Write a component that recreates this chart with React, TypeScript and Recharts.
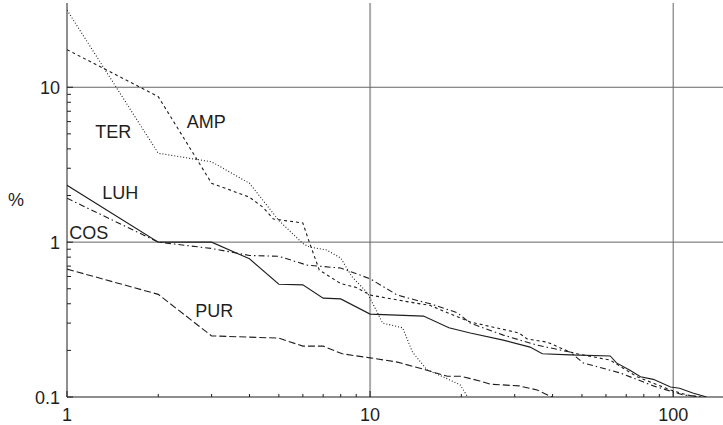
import { LineChart, Line, XAxis, YAxis, ReferenceLine, ReferenceDot } from 'recharts';

const FONT = '"Liberation Sans", Arial, Helvetica, sans-serif';
const INK = '#1e1e1e';

// rank (x) vs share in % (y)
const TER: [number, number][] = [
  [1, 31.5], [2, 3.75], [3, 3.3], [4, 2.4], [5, 1.38], [6, 0.98], [6.3, 0.93], [7.2, 0.89],
  [8, 0.79], [8.7, 0.6], [9.8, 0.47], [11, 0.3], [12.8, 0.28], [13.8, 0.195], [15.4, 0.15],
  [17.4, 0.135], [19.8, 0.12], [21, 0.1],
];
const AMP: [number, number][] = [
  [1, 17.5], [2, 8.7], [3, 2.4], [4, 1.95], [4.43, 1.68], [4.8, 1.41], [6, 1.33], [6.3, 1.0],
  [6.8, 0.66], [8, 0.54], [9, 0.51], [10, 0.455], [11.4, 0.435], [13.5, 0.41], [15.8, 0.39],
  [18, 0.35], [21.4, 0.305], [31, 0.259], [33, 0.237], [38.4, 0.226], [45.7, 0.195], [48.3, 0.19],
  [62, 0.173], [76, 0.135], [98, 0.111], [111, 0.103], [123, 0.1],
];
const LUH: [number, number][] = [
  [1, 2.33], [2, 1.0], [3, 1.0], [4, 0.78], [5, 0.535], [6, 0.53], [7, 0.435], [8, 0.43],
  [10, 0.343], [15, 0.333], [18.2, 0.28], [21.4, 0.259], [27.5, 0.233], [33.7, 0.21], [37, 0.19],
  [45.7, 0.187], [62, 0.184], [65, 0.166], [72, 0.149], [78, 0.135], [86, 0.13], [98, 0.116],
  [105, 0.114], [116, 0.106], [129, 0.1],
];
const COS: [number, number][] = [
  [1, 1.92], [2, 1.0], [3, 0.91], [4, 0.82], [5, 0.81], [6.2, 0.71], [8, 0.68], [10, 0.58],
  [12.3, 0.455], [14.3, 0.42], [15.8, 0.4], [19.4, 0.35], [21.4, 0.3], [27.5, 0.251],
  [35.6, 0.216], [45.7, 0.195], [50.5, 0.166], [66.8, 0.143], [86, 0.118], [108, 0.103], [126, 0.1],
];
const PUR: [number, number][] = [
  [1, 0.67], [2, 0.46], [3, 0.248], [5, 0.24], [6, 0.213], [7, 0.213], [8.1, 0.19], [10, 0.179],
  [12.3, 0.168], [15.4, 0.149], [18, 0.136], [20, 0.136], [23, 0.127], [24.9, 0.121], [31, 0.118],
  [35.6, 0.111], [39.8, 0.1],
];

const X_TICKS = [1, 2, 3, 4, 5, 6, 7, 8, 9, 10, 20, 30, 40, 50, 60, 70, 80, 90, 100];
const Y_TICKS = [0.1, 0.2, 0.3, 0.4, 0.5, 0.6, 0.7, 0.8, 0.9, 1, 2, 3, 4, 5, 6, 7, 8, 9, 10];
const X_DOMAIN = [1, 146];
const Y_DOMAIN = [0.1, 35];

const SERIES = [
  { name: 'TER', data: TER, dash: '1 2' },
  { name: 'AMP', data: AMP, dash: '3 3' },
  { name: 'LUH', data: LUH, dash: undefined },
  { name: 'COS', data: COS, dash: '6 3 1.5 3' },
  { name: 'PUR', data: PUR, dash: '7 3' },
];

// where the series names sit, in data coordinates
const TAGS = [
  { text: 'TER', x: 1.42, y: 5.2 },
  { text: 'AMP', x: 2.88, y: 5.98 },
  { text: 'LUH', x: 1.5, y: 2.08 },
  { text: 'COS', x: 1.18, y: 1.15 },
  { text: 'PUR', x: 3.06, y: 0.359 },
];

const toPoints = (rows: [number, number][]) => rows.map(([x, y]) => ({ x, y }));

const isDecade = (v: number) => Math.abs(Math.log10(v) - Math.round(Math.log10(v))) < 1e-6;

// eslint-disable-next-line @typescript-eslint/no-explicit-any
function BottomTick({ x, y, payload }: any) {
  const major = isDecade(payload.value);
  return (
    <g>
      <line x1={x} x2={x} y1={y} y2={y - (major ? 6 : 3)} stroke={INK} />
      {major && (
        <text x={x} y={y + 24} textAnchor="middle" fontSize={18} fill={INK} fontFamily={FONT}>
          {payload.value}
        </text>
      )}
    </g>
  );
}

// eslint-disable-next-line @typescript-eslint/no-explicit-any
function TopTick({ x, y, payload }: any) {
  const major = isDecade(payload.value);
  return <line x1={x} x2={x} y1={y} y2={y + (major ? 6 : 3)} stroke={INK} />;
}

// eslint-disable-next-line @typescript-eslint/no-explicit-any
function LeftTick({ x, y, payload }: any) {
  const major = isDecade(payload.value);
  return (
    <g>
      <line x1={x} x2={x + (major ? 6 : 4)} y1={y} y2={y} stroke={INK} />
      {major && (
        <text x={x - 7} y={y + 6.5} textAnchor="end" fontSize={18} fill={INK} fontFamily={FONT}>
          {payload.value}
        </text>
      )}
    </g>
  );
}

// eslint-disable-next-line @typescript-eslint/no-explicit-any
function RightTick({ x, y, payload }: any) {
  const major = isDecade(payload.value);
  return <line x1={x} x2={x - (major ? 6 : 4)} y1={y} y2={y} stroke={INK} />;
}

export default function App() {
  return (
    <div style={{ position: 'absolute', left: 0, top: 0, background: '#fff' }}>
      <LineChart width={723} height={425} margin={{ top: 3, right: 0, bottom: 0, left: 0 }}>
        <XAxis
          xAxisId={0} dataKey="x" type="number" scale="log" domain={X_DOMAIN} allowDataOverflow
          ticks={X_TICKS} interval={0} tickSize={0} tickMargin={0} height={28}
          axisLine={{ stroke: INK }} tickLine={false} tick={<BottomTick />}
        />
        <XAxis
          xAxisId="top" orientation="top" dataKey="x" type="number" scale="log" domain={X_DOMAIN}
          allowDataOverflow ticks={X_TICKS} interval={0} tickSize={0} tickMargin={0} height={0}
          axisLine={{ stroke: INK }} tickLine={false} tick={<TopTick />}
        />
        <YAxis
          yAxisId={0} type="number" scale="log" domain={Y_DOMAIN} allowDataOverflow
          ticks={Y_TICKS} interval={0} tickSize={0} tickMargin={0} width={67}
          axisLine={{ stroke: INK }} tickLine={false} tick={<LeftTick />}
          label={{ value: '%', position: 'insideLeft', offset: 8, fontSize: 18, fill: INK, fontFamily: FONT }}
        />
        <YAxis
          yAxisId="right" orientation="right" type="number" scale="log" domain={Y_DOMAIN} allowDataOverflow
          ticks={Y_TICKS} interval={0} tickSize={0} tickMargin={0} width={0}
          axisLine={{ stroke: INK }} tickLine={false} tick={<RightTick />}
        />

        <ReferenceLine x={10} stroke="#aaa" strokeWidth={2} />
        <ReferenceLine x={100} stroke="#666" />
        <ReferenceLine y={1} stroke="#666" />
        <ReferenceLine y={10} stroke="#666" />

        {SERIES.map((s) => (
          <Line
            key={s.name} name={s.name} data={toPoints(s.data)} dataKey="y" type="linear"
            stroke={INK} strokeWidth={1.1} strokeDasharray={s.dash}
            dot={false} activeDot={false} isAnimationActive={false}
          />
        ))}

        {TAGS.map((t) => (
          <ReferenceDot
            key={t.text} x={t.x} y={t.y} r={0} fill="none" stroke="none"
            label={{ value: t.text, position: 'center', fontSize: 18, fill: INK, fontFamily: FONT }}
          />
        ))}
      </LineChart>
    </div>
  );
}
